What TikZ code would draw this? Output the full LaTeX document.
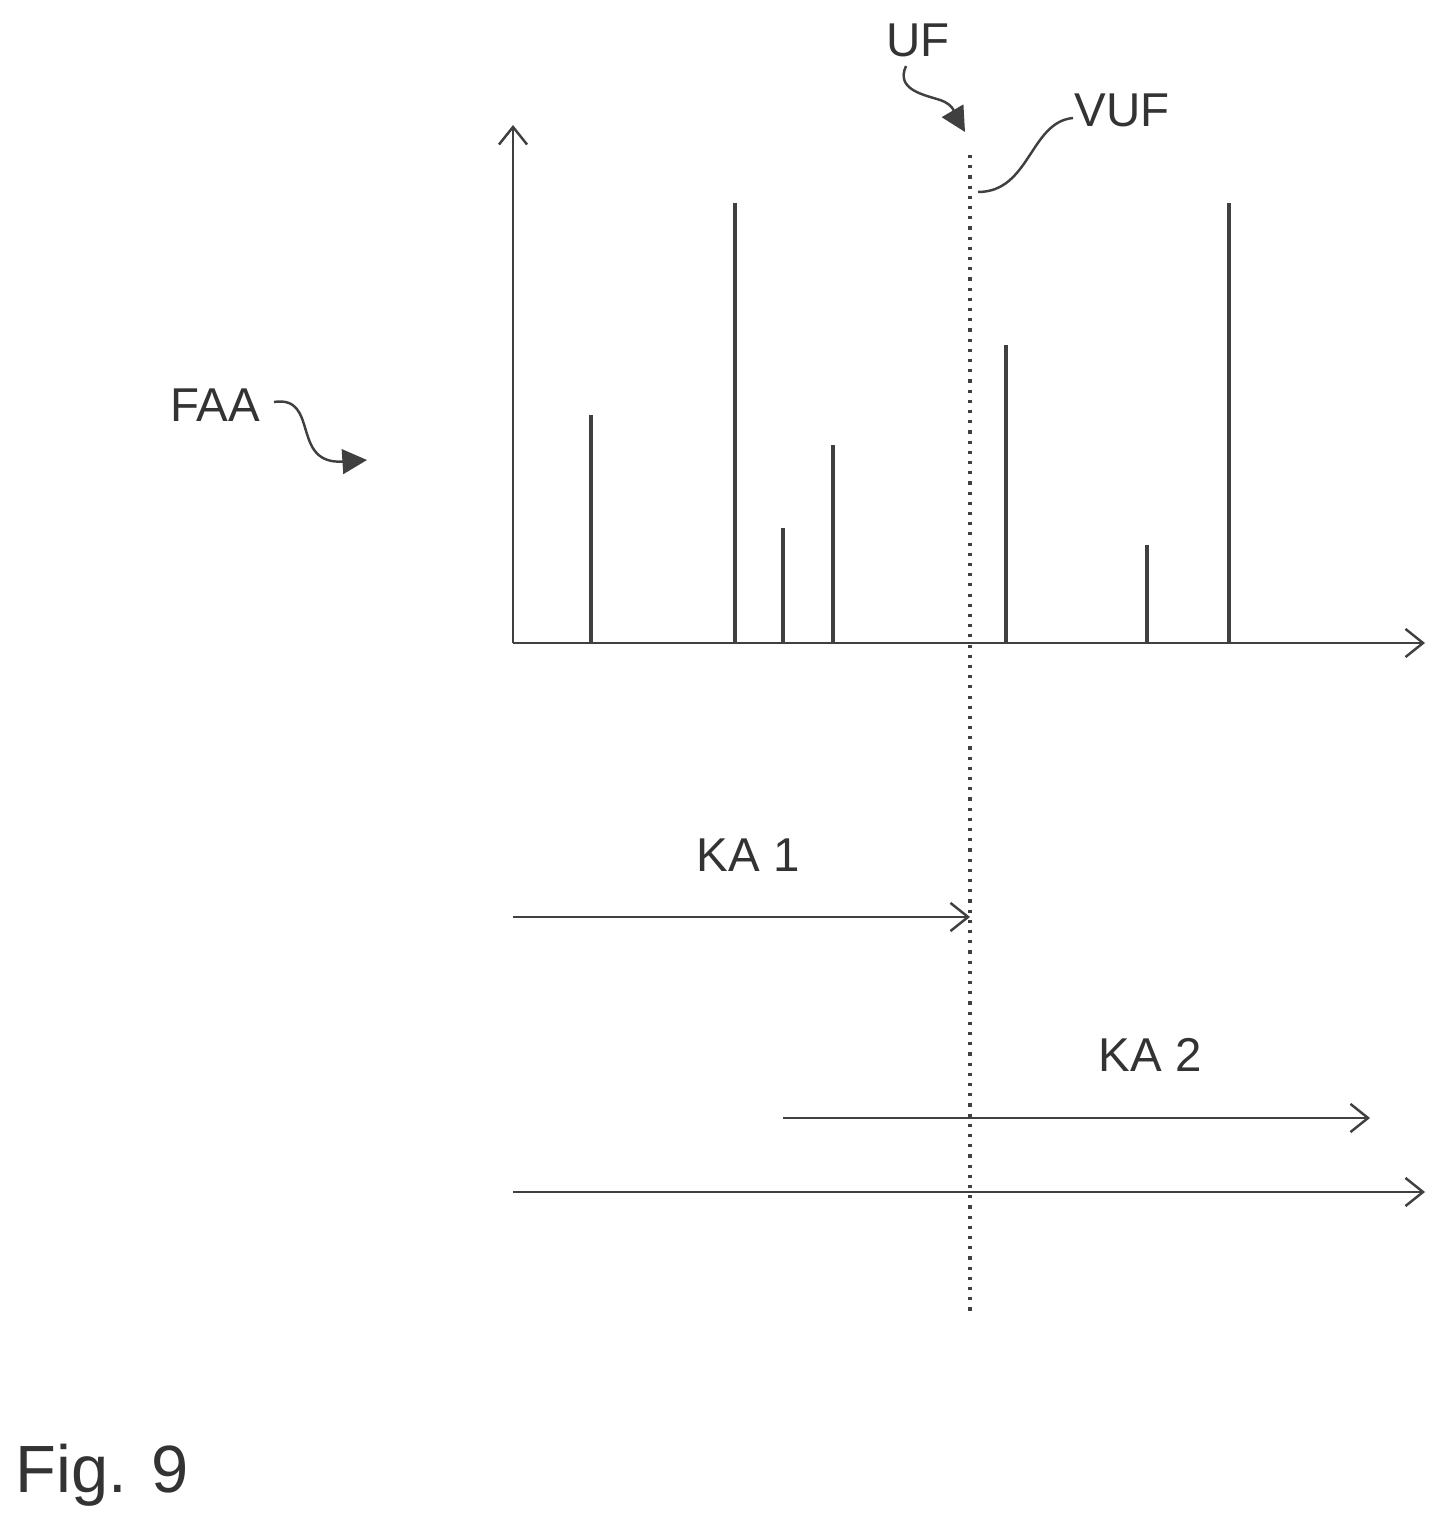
\documentclass[tikz,border=0pt]{standalone}
\usepackage{fontspec}
\setmainfont{Liberation Sans}
\usetikzlibrary{arrows.meta}

\begin{document}
\begin{tikzpicture}[x=0.01cm,y=-0.01cm,
  axis/.style={draw=black!75,line width=0.7pt,-{Straight Barb[length=5pt,width=8pt]}},
  bar/.style={draw=black!75,line width=0.9pt},
  lbl/.style={font=\fontsize{13.5}{16}\selectfont,text=black!80},
  pointer/.style={draw=black!75,line width=0.7pt,-{Triangle[length=7pt,width=7pt]}}]

	\useasboundingbox (0,0) rectangle (1445,1534);

	\coordinate(O) at (513,643);
	\coordinate(Ytop) at (513,125);
	\coordinate(Xend) at (1425,643);

	\draw[axis] (O)--(Ytop);
	\draw[axis] (O)--(Xend);

	% spectral lines
	\foreach \x/\h in {591/415,735/203,783/528,833/445,1006/345,1147/545,1229/203}
		\draw[bar] (\x,643)--(\x,\h);

	% boundary
	\coordinate(Vtop) at (970,155);
	\coordinate(Vbot) at (970,1315);
	\draw[black!75,dotted,line width=0.9pt] (Vtop)--(Vbot);

	% labels
	\node[lbl] (UF) at (918,40) {UF};
	\node[lbl] (VUF) at (1122,110) {VUF};
	\node[lbl] (FAA) at (215,405) {FAA};
	\draw[pointer] (906,66) .. controls (895,90) and (925,95) .. (940,100) .. controls (955,105) and (955,115) .. (965,132);
	\draw[black!75,line width=0.7pt] (1073,118) .. controls (1030,122) and (1030,192) .. (978,192);
	\draw[pointer] (274,402) .. controls (320,395) and (290,465) .. (367,460);

	% time arrows
	\coordinate(ka1s) at (513,917);
	\coordinate(ka1e) at (970,917);
	\draw[axis] (ka1s)--(ka1e);
	\node[lbl] (KA1) at (748,855) {KA 1};

	\coordinate(ka2s) at (783,1118);
	\coordinate(ka2e) at (1370,1118);
	\draw[axis] (ka2s)--(ka2e);
	\node[lbl] (KA2) at (1150,1055) {KA 2};

	\coordinate(ts) at (513,1192);
	\coordinate(te) at (1425,1192);
	\draw[axis] (ts)--(te);

	\node[font=\fontsize{19}{22}\selectfont,text=black!80] (fig) at (102,1475) {Fig. 9};

\end{tikzpicture}
\end{document}
